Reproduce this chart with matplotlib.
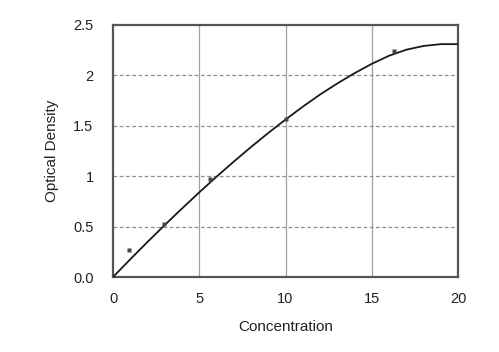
import numpy as np
from matplotlib import pyplot as plt

plt.rcParams['font.family'] = ['Liberation Sans', 'DejaVu Sans']

# measured standards
conc = [0.9, 2.95, 5.6, 10.0, 16.3]
od = [0.27, 0.53, 0.975, 1.57, 2.24]

# fitted standard curve
curve_x = [0, 1, 2, 3, 4, 5, 6, 7, 8, 9, 10, 11, 12, 13, 14, 15, 16, 17, 18, 19, 20]
curve_y = [0, 0.176, 0.348, 0.516, 0.68, 0.84, 0.995, 1.145, 1.29, 1.429, 1.562,
           1.69, 1.81, 1.92, 2.022, 2.115, 2.195, 2.255, 2.292, 2.31, 2.31]

x_ticks = [0, 5, 10, 15, 20]
y_ticks = [0, 0.5, 1, 1.5, 2, 2.5]
y_tick_labels = ['0.0', '0.5', '1', '1.5', '2', '2.5']

fig = plt.figure(figsize=(4.99, 3.52), dpi=100)
ax = fig.add_axes([0.2265, 0.213, 0.6915, 0.716])

for xv in x_ticks[1:-1]:
    ax.axvline(xv, color='#a0a0a0', lw=0.9, zorder=1)
for yv in y_ticks[1:-1]:
    ax.axhline(yv, color='#909090', lw=0.9, ls=(0, (3, 2)), zorder=1)

ax.plot(curve_x, curve_y, color='#1a1a1a', lw=1.3, zorder=3)
ax.plot(conc, od, 's', color='#444444', ms=3.5, mec='none', zorder=4)

ax.set_xlim(0, 20)
ax.set_ylim(0, 2.5)
ax.set_xticks(x_ticks)
ax.set_yticks(y_ticks)
ax.set_yticklabels(y_tick_labels)
ax.tick_params(length=0, labelsize=10.5, colors='#222222')
ax.tick_params(axis='x', pad=11)
ax.tick_params(axis='y', pad=14)

for s in ax.spines.values():
    s.set_color('#555555')
    s.set_linewidth(1.6)

ax.set_xlabel('Concentration', fontsize=11, color='#222222', labelpad=10)
ax.set_ylabel('Optical Density', fontsize=11, color='#222222', labelpad=10)

plt.savefig('out.png', dpi=100)
